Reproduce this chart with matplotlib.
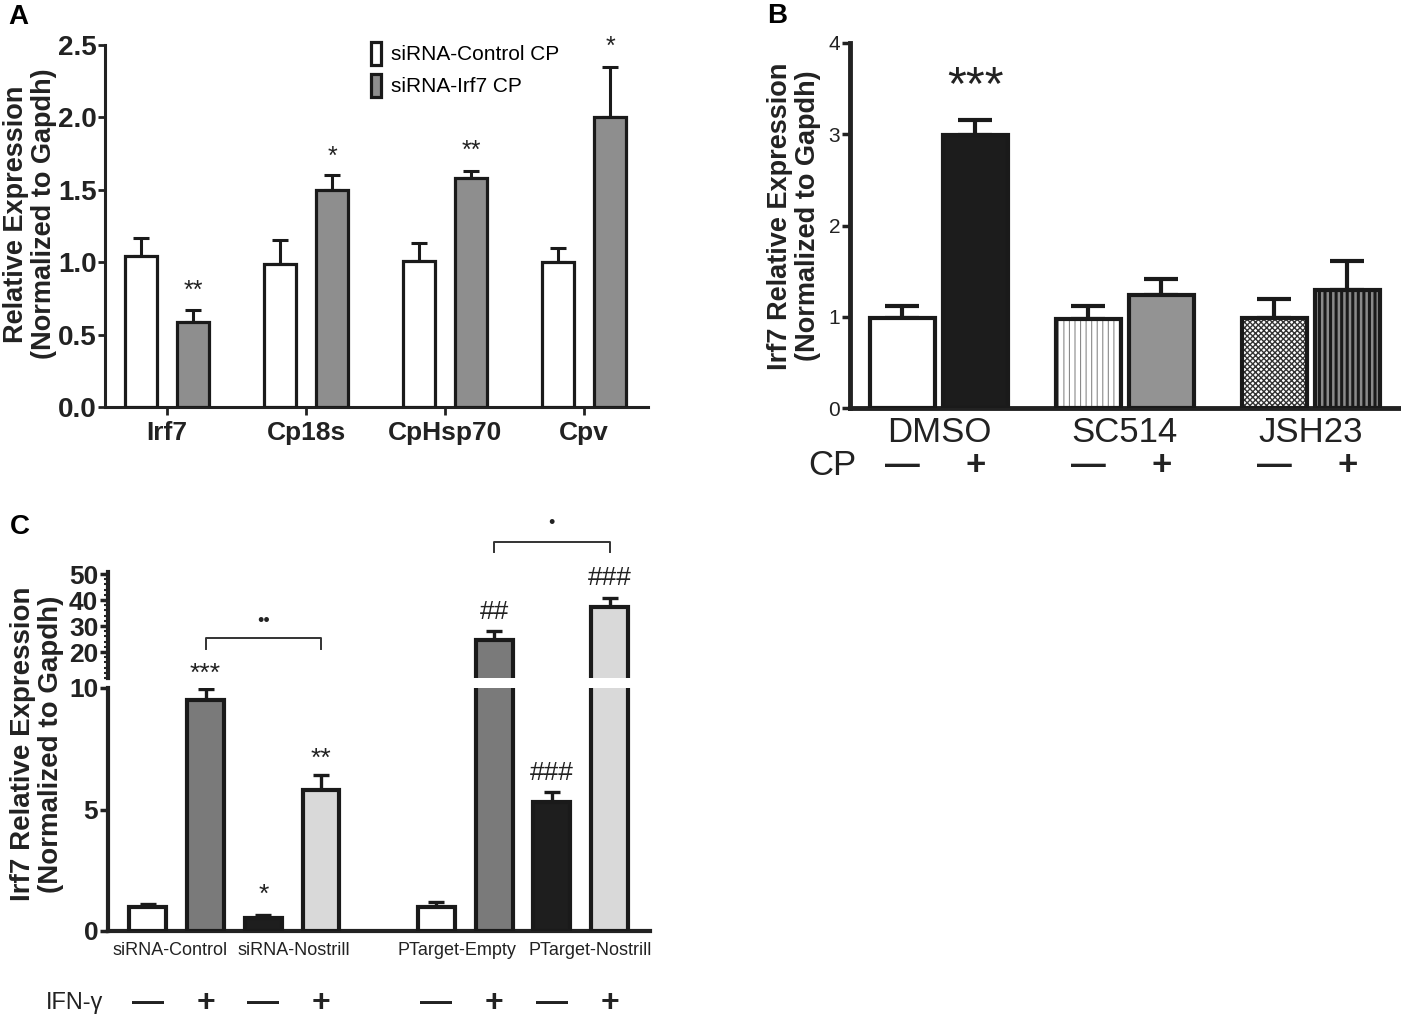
import matplotlib
matplotlib.use('Agg')
import matplotlib.pyplot as plt
from matplotlib.patches import Patch
from matplotlib.ticker import MultipleLocator
import numpy as np

plt.rcParams['font.family'] = ['Liberation Sans', 'DejaVu Sans']

W, H = 1401, 1017

# ---- Panel A data
genes = ['Irf7', 'Cp18s', 'CpHsp70', 'Cpv']
a_ctrl = [1.04, 0.99, 1.01, 1.00]
a_ctrl_err = [0.13, 0.16, 0.12, 0.10]
a_irf7 = [0.59, 1.50, 1.58, 2.00]
a_irf7_err = [0.08, 0.10, 0.05, 0.35]
a_stars = ['**', '*', '**', '*']
a_star_y = [0.80, 1.73, 1.77, 2.49]
a_legend = ['siRNA-Control CP', 'siRNA-Irf7 CP']

# ---- Panel B data
b_groups = ['DMSO', 'SC514', 'JSH23']
b_minus = [0.99, 0.98, 0.99]
b_minus_err = [0.13, 0.14, 0.20]
b_plus = [2.99, 1.24, 1.29]
b_plus_err = [0.17, 0.17, 0.32]
b_cp = ['\u2014', '+']

# ---- Panel C data
c_groups = ['siRNA-Control', 'siRNA-Nostrill', 'PTarget-Empty', 'PTarget-Nostrill']
c_pos = [0, 1, 2, 3, 5, 6, 7, 8]
c_vals = [1.0, 9.5, 0.55, 5.8, 1.0, 24.6, 5.3, 37.3]
c_err = [0.12, 0.46, 0.10, 0.62, 0.20, 3.4, 0.42, 3.5]
c_ifn = ['\u2014', '+', '\u2014', '+', '\u2014', '+', '\u2014', '+']
c_marks = ['', '***', '*', '**', '', '##', '###', '###']
c_mark_y = [0, 10.6, 1.5, 7.1, 0, 35.4, 6.5, 48.5]


def px_axes(fig, left, top, right, bottom):
    return fig.add_axes([left / W, 1 - bottom / H, (right - left) / W, (bottom - top) / H])


fig = plt.figure(figsize=(W / 100, H / 100), dpi=100)
ink = '#222222'

# ================= A =================
axA = px_axes(fig, 105, 45, 648, 407)
x = np.arange(len(genes))
axA.bar(x - 0.19, a_ctrl, 0.23, color='white', edgecolor='#1a1a1a', linewidth=2.3, zorder=3)
axA.bar(x + 0.19, a_irf7, 0.23, color='#8e8e8e', edgecolor='#1a1a1a', linewidth=2.3, zorder=3)
axA.errorbar(x - 0.19, a_ctrl, yerr=[np.zeros(4), a_ctrl_err], fmt='none', ecolor='#1a1a1a',
             elinewidth=2.2, capsize=6, capthick=2.2, zorder=2)
axA.errorbar(x + 0.19, a_irf7, yerr=[np.zeros(4), a_irf7_err], fmt='none', ecolor='#1a1a1a',
             elinewidth=2.2, capsize=6, capthick=2.2, zorder=2)
for i, s in enumerate(a_stars):
    axA.text(x[i] + 0.19, a_star_y[i], s, ha='center', va='center', fontsize=18, color=ink)
axA.set_xlim(-0.446, 3.46)
axA.set_ylim(0, 2.5)
axA.set_xticks(x)
axA.set_xticklabels(genes, fontsize=19, fontweight='bold', color=ink)
axA.set_yticks([0, 0.5, 1.0, 1.5, 2.0, 2.5])
axA.set_yticklabels(['0.0', '0.5', '1.0', '1.5', '2.0', '2.5'], fontsize=20, fontweight='bold',
                    color=ink)
axA.tick_params(axis='y', width=2, length=5, color=ink, pad=1)
axA.tick_params(axis='x', width=2, length=6, color=ink, pad=4)
for sp in ['top', 'right']:
    axA.spines[sp].set_visible(False)
for sp in ['left', 'bottom']:
    axA.spines[sp].set_linewidth(2.2)
    axA.spines[sp].set_color(ink)
handles = [Patch(facecolor='white', edgecolor='#1a1a1a', linewidth=2.3),
           Patch(facecolor='#8e8e8e', edgecolor='#1a1a1a', linewidth=2.3)]
axA.legend(handles, a_legend, loc='upper left', bbox_to_anchor=(0.455, 1.06), frameon=False,
           fontsize=15, handlelength=0.5, handleheight=1.3, handletextpad=0.45, labelspacing=0.45)
fig.text(30 / W, 1 - 214 / H, 'Relative Expression\n(Normalized to Gapdh)', rotation=90,
         ha='center', va='center', fontsize=19.5, fontweight='bold', linespacing=1.1, color=ink)
fig.text(8 / W, 1 - 17 / H, 'A', fontsize=20, fontweight='bold', ha='left', va='center')

# ================= B =================
axB = px_axes(fig, 850, 43, 1400, 408)
xb = np.arange(len(b_groups))
off, wb = 0.196, 0.35
ek = '#1a1a1a'
# DMSO
axB.bar(xb[0] - off, b_minus[0], wb, color='white', edgecolor=ek, linewidth=3, zorder=3)
axB.bar(xb[0] + off, b_plus[0], wb, color='#1c1c1c', edgecolor=ek, linewidth=3, zorder=3)
# SC514 - : white with thin grey vertical lines
h1 = axB.bar(xb[1] - off, b_minus[1], wb, color='white', edgecolor='#8a8a8a', linewidth=0,
             hatch='|||', zorder=3)
axB.bar(xb[1] - off, b_minus[1], wb, color='none', edgecolor=ek, linewidth=3, zorder=4)
axB.bar(xb[1] + off, b_plus[1], wb, color='#939393', edgecolor=ek, linewidth=3, zorder=3)
# JSH23 - : fine checker, + : dark vertical stripes
h2 = axB.bar(xb[2] - off, b_minus[2], wb, color='white', edgecolor='#333333', linewidth=0,
             hatch='xxxxxx', zorder=3)
axB.bar(xb[2] - off, b_minus[2], wb, color='none', edgecolor=ek, linewidth=3, zorder=4)
h3 = axB.bar(xb[2] + off, b_plus[2], wb, color='#8a8a8a', edgecolor='#1a1a1a', linewidth=0,
             hatch='|||', zorder=3)
axB.bar(xb[2] + off, b_plus[2], wb, color='none', edgecolor=ek, linewidth=3, zorder=4)
for cont, lw in [(h1, 0.8), (h2, 1.0), (h3, 2.2)]:
    for p in cont:
        if hasattr(p, 'set_hatch_linewidth'):
            p.set_hatch_linewidth(lw)
axB.errorbar(xb - off, b_minus, yerr=[np.zeros(3), b_minus_err], fmt='none', ecolor=ek,
             elinewidth=3, capsize=12, capthick=3, zorder=2)
axB.errorbar(xb + off, b_plus, yerr=[np.zeros(3), b_plus_err], fmt='none', ecolor=ek,
             elinewidth=3, capsize=12, capthick=3, zorder=2)
axB.text(xb[0] + off, 3.52, '***', ha='center', va='center', fontsize=35, color=ink)
axB.set_xlim(-0.478, 2.48)
axB.set_ylim(0, 4)
axB.set_xticks([])
axB.set_yticks([0, 1, 2, 3, 4])
axB.set_yticklabels(['0', '1', '2', '3', '4'], fontsize=15, color=ink)
axB.tick_params(axis='y', width=2.5, length=6, color=ink, pad=1)
for sp in ['top', 'right']:
    axB.spines[sp].set_visible(False)
for sp in ['left', 'bottom']:
    axB.spines[sp].set_linewidth(3.5)
    axB.spines[sp].set_color(ink)
trB = axB.get_xaxis_transform()
for i, g in enumerate(b_groups):
    axB.text(xb[i], -0.068, g, transform=trB, ha='center', va='center', fontsize=25, color=ink)
    for j, s in enumerate(b_cp):
        axB.text(xb[i] + (2 * j - 1) * off, -0.157, s, transform=trB, ha='center', va='center',
                 fontsize=25, fontweight='bold', color=ink)
axB.text(-0.575, -0.157, 'CP', transform=trB, ha='center', va='center', fontsize=25, color=ink)
fig.text(794 / W, 1 - 216 / H, 'Irf7 Relative Expression\n(Normalized to Gapdh)', rotation=90,
         ha='center', va='center', fontsize=19.5, fontweight='bold', linespacing=1.1, color=ink)
fig.text(767 / W, 1 - 16 / H, 'B', fontsize=20, fontweight='bold', ha='left', va='center')

# ================= C =================
c_fill = ['white', '#7a7a7a', '#1e1e1e', '#d9d9d9', 'white', '#7a7a7a', '#1e1e1e', '#d9d9d9']
axC = px_axes(fig, 108, 688, 650, 931)
axCu = px_axes(fig, 108, 572, 650, 678)
wc = 0.64
upper_lim = 10
for ax in (axC, axCu):
    show = [i for i in range(len(c_vals)) if ax is axC or c_vals[i] > upper_lim]
    ax.bar([c_pos[i] for i in show], [c_vals[i] for i in show], wc,
           color=[c_fill[i] for i in show], edgecolor='#1a1a1a', linewidth=3, zorder=3)
    ax.errorbar([c_pos[i] for i in show], [c_vals[i] for i in show],
                yerr=[np.zeros(len(show)), [c_err[i] for i in show]], fmt='none',
                ecolor='#1a1a1a', elinewidth=2.4, capsize=6, capthick=2.4, zorder=2)
    ax.set_xlim(-0.69, 8.7)
    ax.set_xticks([])
    ax.patch.set_alpha(0)
    for sp in ['top', 'right']:
        ax.spines[sp].set_visible(False)
    ax.spines['left'].set_linewidth(3)
    ax.spines['left'].set_color(ink)
axC.set_ylim(0, upper_lim)
axC.spines['bottom'].set_linewidth(3)
axC.spines['bottom'].set_color(ink)
axC.set_yticks([0, 5, 10])
axC.set_yticklabels(['0', '5', '10'], fontsize=19, fontweight='bold', color=ink)
axC.tick_params(axis='y', width=2.5, length=6, color=ink, pad=1)
axCu.set_ylim(upper_lim, 50.8)
axCu.spines['bottom'].set_visible(False)
axCu.set_yticks([20, 30, 40, 50])
axCu.set_yticklabels(['20', '30', '40', '50'], fontsize=19, fontweight='bold', color=ink)
axCu.yaxis.set_minor_locator(MultipleLocator(2))
axCu.tick_params(axis='y', which='major', width=2.5, length=6, color=ink, pad=1)
axCu.tick_params(axis='y', which='minor', width=1.5, length=3, color=ink)

for i, m in enumerate(c_marks):
    if not m:
        continue
    target = axC if c_mark_y[i] < 12 else axCu
    target.text(c_pos[i], c_mark_y[i], m, ha='center', va='center', fontsize=19,
                color=ink, clip_on=False)

# brackets
axCu.plot([1, 1, 3, 3], [21.2, 25.4, 25.4, 21.2], color='#333333', lw=1.4, clip_on=False)
axCu.text(2, 31.9, '\u2022\u2022', ha='center', va='center', fontsize=13, color=ink)
axCu.plot([6, 6, 8, 8], [58.5, 62.3, 62.3, 58.5], color='#333333', lw=1.4, clip_on=False)
axCu.text(7, 69.6, '\u2022', ha='center', va='center', fontsize=13, color=ink, clip_on=False)

trC = axC.get_xaxis_transform()
c_label_shift = [-0.12, 0.03, -0.14, 0.16]
for k, g in enumerate(c_groups):
    xc = (c_pos[2 * k] + c_pos[2 * k + 1]) / 2 + c_label_shift[k]
    axC.text(xc, -0.082, g, transform=trC, ha='center', va='center', fontsize=13, color=ink)
for i, s in enumerate(c_ifn):
    axC.text(c_pos[i], -0.295, s, transform=trC, ha='center', va='center', fontsize=23,
             fontweight='bold', color=ink)
axC.text(-1.27, -0.295, 'IFN-\u03b3', transform=trC, ha='center', va='center', fontsize=17,
         color=ink)
fig.text(37 / W, 1 - 744 / H, 'Irf7 Relative Expression\n(Normalized to Gapdh)', rotation=90,
         ha='center', va='center', fontsize=20, fontweight='bold', linespacing=1.1, color=ink)
fig.text(10 / W, 1 - 527 / H, 'C', fontsize=20, fontweight='bold', ha='left', va='center')

fig.savefig('out.png', dpi=100)
